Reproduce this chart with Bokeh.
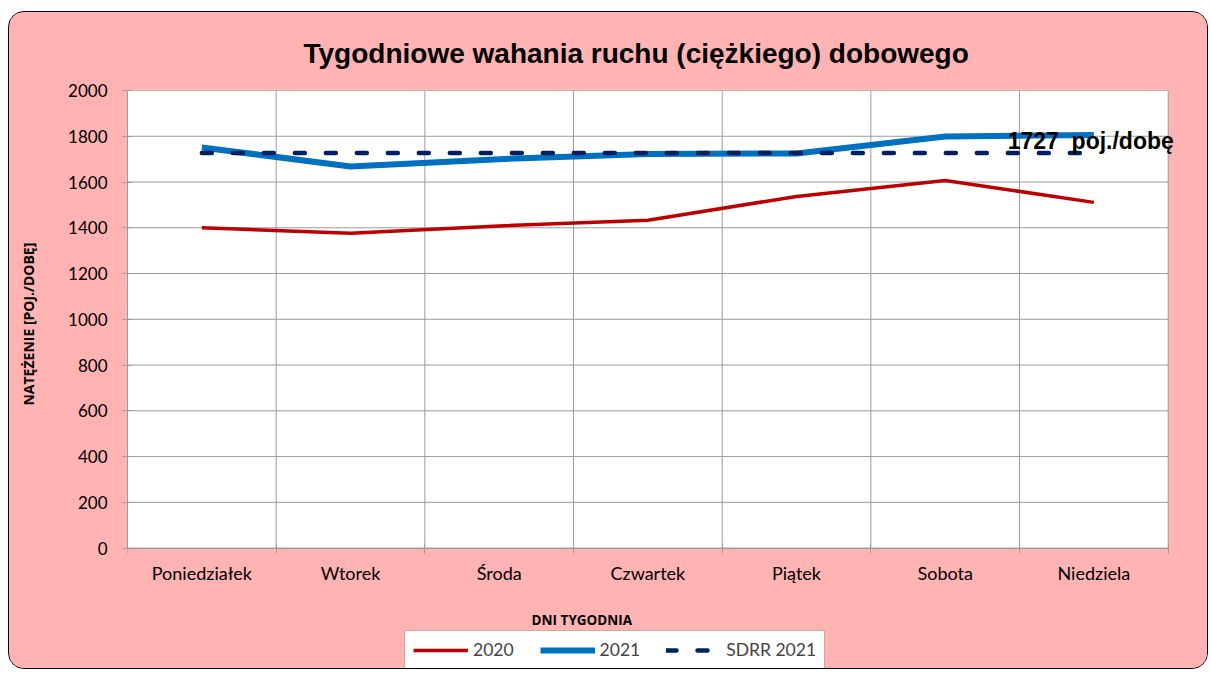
from bokeh.plotting import figure
from bokeh.models import (FixedTicker, Legend, LegendItem, ColumnDataSource)
from bokeh.embed import file_html
from bokeh.resources import INLINE
from bokeh.core.properties import value

days = ["Poniedziałek", "Wtorek", "Środa", "Czwartek", "Piątek", "Sobota", "Niedziela"]
v2020 = [1400, 1376, 1408, 1433, 1537, 1607, 1511]
v2021 = [1751, 1668, 1700, 1722, 1725, 1799, 1806]
sdrr = [1727, 1727, 1727, 1727, 1727, 1727, 1727]
sdrr_label = "1727\u00a0\u00a0poj./dobę"
y_ticks = [0, 200, 400, 600, 800, 1000, 1200, 1400, 1600, 1800, 2000]
y_min, y_max = 0, 2000

n = len(days)
xs = [i + 0.5 for i in range(n)]
src = ColumnDataSource(dict(x=xs, a=v2020, b=v2021, c=sdrr))

PINK = "#FFB3B3"
GRID = "#9C9C9C"
TICKFONT = "Lato"
X_PAD = 0.15  # room right of the plot area for the SDRR label

# extra room below the value axis holds the axis texts and the legend
p = figure(width=1200, height=658, x_range=(0, n + X_PAD), y_range=(-535, y_max),
           output_backend="svg", toolbar_location=None,
           background_fill_color=None, border_fill_color=PINK,
           min_border_left=118, min_border_right=19, min_border_top=78,
           min_border_bottom=0, outline_line_color=None)
p.styles = {"border": "1.5px solid #000000", "border-radius": "16px",
            "overflow": "hidden", "margin-left": "8px", "margin-top": "11px",
            "background-color": PINK}

p.title.text = "Tygodniowe wahania ruchu (ciężkiego) dobowego"
p.title.text_font = "Liberation Sans"
p.title.text_font_size = "28px"
p.title.text_font_style = "bold"
p.title.align = "left"
p.title.offset = 176
p.title.standoff = 43
p.title.text_color = "black"

# plot area
p.quad(left=[0], right=[n], bottom=[y_min], top=[y_max], fill_color="white",
       line_color=GRID, line_width=1)

# x axis (fixed at zero)
xa = p.xaxis[0]
xa.fixed_location = 0
xa.bounds = (0, n)
xa.ticker = FixedTicker(ticks=xs, minor_ticks=list(range(0, n + 1)))
xa.major_label_overrides = {x: d for x, d in zip(xs, days)}
xa.major_tick_line_color = None
xa.minor_tick_line_color = GRID
xa.minor_tick_in = 5
xa.minor_tick_out = 5
xa.axis_line_color = GRID
xa.major_label_text_font = TICKFONT
xa.major_label_text_font_size = "18px"
xa.major_label_text_color = "black"
xa.major_label_standoff = 8

# y axis
ya = p.yaxis[0]
ya.bounds = (y_min, y_max)
ya.ticker = FixedTicker(ticks=y_ticks)
ya.major_tick_in = 5
ya.major_tick_out = 5
ya.major_tick_line_color = GRID
ya.minor_tick_line_color = None
ya.axis_line_color = GRID
ya.major_label_text_font = TICKFONT
ya.major_label_text_font_size = "17px"
ya.major_label_text_color = "black"
ya.major_label_standoff = 15
ya.axis_label = "\u00a0" * 31 + "NATĘŻENIE [POJ./DOBĘ]"
ya.axis_label_text_font = "Open Sans"
ya.axis_label_text_font_size = "14px"
ya.axis_label_text_font_style = "bold"
ya.axis_label_text_color = "black"
ya.axis_label_standoff = 27

p.xgrid.visible = False
p.ygrid.visible = False

inner_y = [t for t in y_ticks if y_min < t < y_max]
p.segment(x0=[0] * len(inner_y), x1=[n] * len(inner_y), y0=inner_y, y1=inner_y,
          line_color=GRID, line_width=1)
bounds = list(range(1, n))
p.segment(x0=bounds, x1=bounds, y0=[y_min] * len(bounds), y1=[y_max] * len(bounds),
          line_color=GRID, line_width=1)

p.text(x=[n / 2], y=[y_min], text=["DNI TYGODNIA"],
       text_font=value("Open Sans"), text_font_size="13.5px",
       text_font_style="bold", text_color="black",
       text_baseline="middle", text_align="center", x_offset=-66, y_offset=72)

r1 = p.line("x", "a", source=src, line_color="#C00000", line_width=3.5)
r2 = p.line("x", "b", source=src, line_color="#0070C0", line_width=6)
r3 = p.line("x", "c", source=src, line_color="#002060", line_width=4.5,
            line_dash="10 21", line_cap="round")

p.text(x=[xs[-1] - 0.58], y=[sdrr[-1]], text=[sdrr_label],
       text_font=value("Liberation Sans"), text_font_size="23px",
       text_font_style="bold", text_color="black",
       text_baseline="middle", text_align="left", y_offset=-12)

legend = Legend(items=[LegendItem(label="2020", renderers=[r1]),
                       LegendItem(label="2021", renderers=[r2]),
                       LegendItem(label="SDRR 2021", renderers=[r3])],
                orientation="horizontal", location=(277, 1),
                glyph_width=55, glyph_height=20, label_standoff=5, spacing=26,
                padding=8, margin=0,
                label_text_font=TICKFONT, label_text_font_size="17.5px",
                border_line_color="#A0522D", border_line_width=1.5,
                background_fill_color="white", background_fill_alpha=1)
p.add_layout(legend)

open("out.html", "w").write(file_html(p, INLINE))
